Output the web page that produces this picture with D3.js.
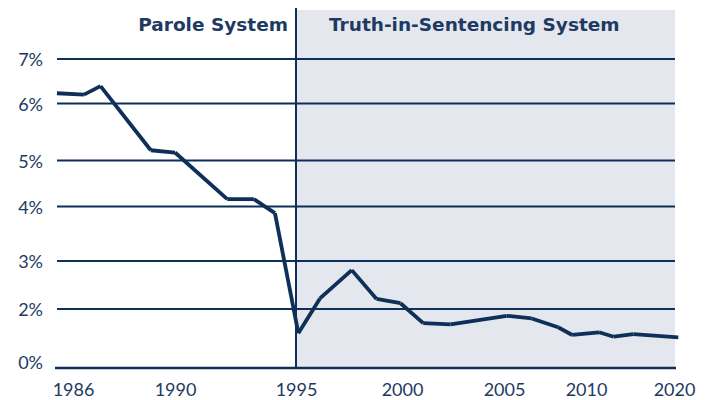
<!DOCTYPE html>
<html>
<head>
<meta charset="utf-8">
<script src="https://cdn.jsdelivr.net/npm/d3@7"></script>
<style>
  html, body { margin: 0; padding: 0; background: #ffffff; }
  svg { display: block; }
</style>
</head>
<body>
<script>
// ---- data ----
const years = [1985.37, 1986.43, 1987.08, 1989.05, 1990.0, 1992.16, 1993.26, 1994.13,
               1995.11, 1996.13, 1997.63, 1998.80, 1999.93, 2001.04, 2002.38, 2005.16,
               2006.69, 2008.30, 2009.16, 2011.48, 2013.15, 2015.38, 2020.49];
const rates = [6.23, 6.20, 6.39, 5.18, 5.14, 4.16, 4.16, 3.88,
               1.18, 2.22, 2.81, 2.21, 2.12, 1.52, 1.48, 1.77,
               1.68, 1.38, 1.12, 1.21, 1.06, 1.15, 1.04];
const xTicks = [1986, 1990, 1995, 2000, 2005, 2010, 2020];
const yTicks = [0, 2, 3, 4, 5, 6, 7];
const systemLabels = ["Parole System", "Truth-in-Sentencing System"];
const changeYear = 1995;

// ---- layout ----
const W = 711, H = 400;
const gridLeft = 57, gridRight = 675;
const navy = "#0e2f57", textCol = "#1e3a62", shade = "#e4e8ee";

const x = d3.scaleLinear().domain(xTicks).range([73, 175, 296, 402, 504, 586, 674]);
const y = d3.scaleLinear().domain(yTicks).range([368, 309, 261, 206.5, 160.5, 103.5, 59]);

const svg = d3.select("body").append("svg").attr("width", W).attr("height", H);

// shaded truth-in-sentencing region
svg.append("rect")
  .attr("x", x(changeYear)).attr("y", 10)
  .attr("width", gridRight - x(changeYear)).attr("height", y(0) - 10)
  .attr("fill", shade);

// gridlines
svg.append("g").selectAll("line").data(yTicks.filter(d => d > 0)).join("line")
  .attr("x1", gridLeft).attr("x2", gridRight)
  .attr("y1", d => y(d)).attr("y2", d => y(d))
  .attr("stroke", navy).attr("stroke-width", 2);

// baseline
svg.append("line")
  .attr("x1", 55).attr("x2", 676).attr("y1", y(0)).attr("y2", y(0))
  .attr("stroke", navy).attr("stroke-width", 2.6);

// divider
svg.append("line")
  .attr("x1", x(changeYear)).attr("x2", x(changeYear))
  .attr("y1", 8).attr("y2", y(0))
  .attr("stroke", navy).attr("stroke-width", 2);

// y axis labels
const yAxis = svg.append("g").attr("transform", `translate(${gridLeft},0)`)
  .call(d3.axisLeft(y).tickValues(yTicks).tickFormat(d => d + "%").tickSize(0).tickPadding(14));
yAxis.select(".domain").remove();
yAxis.selectAll("text")
  .attr("font-family", "Lato, 'Open Sans', sans-serif").attr("font-size", 18)
  .attr("fill", textCol).attr("dy", d => d === 0 ? "0.0em" : "0.38em");

// x axis labels
const xAxis = svg.append("g").attr("transform", `translate(0,${y(0)})`)
  .call(d3.axisBottom(x).tickValues(xTicks).tickFormat(d3.format("d")).tickSize(0));
xAxis.select(".domain").remove();
xAxis.selectAll("text")
  .attr("font-family", "Lato, 'Open Sans', sans-serif").attr("font-size", 18)
  .attr("fill", textCol).attr("y", 28).attr("dy", 0);

// series drawn as separate segments (butt caps give the notched joins)
const pts = years.map((yr, i) => [x(yr), y(rates[i])]);
const segs = d3.pairs(pts);
svg.append("g").selectAll("line").data(segs).join("line")
  .attr("x1", d => d[0][0]).attr("y1", d => d[0][1])
  .attr("x2", d => d[1][0]).attr("y2", d => d[1][1])
  .attr("stroke", navy).attr("stroke-width", 3.8).attr("stroke-linecap", "butt");

// system titles
svg.append("text")
  .attr("x", 288).attr("y", 31).attr("text-anchor", "end")
  .attr("font-family", "'DejaVu Sans', Verdana, sans-serif").attr("font-weight", "bold")
  .attr("font-size", 18.5).attr("fill", textCol).text(systemLabels[0]);
svg.append("text")
  .attr("x", 329).attr("y", 31).attr("text-anchor", "start")
  .attr("font-family", "'DejaVu Sans', Verdana, sans-serif").attr("font-weight", "bold")
  .attr("font-size", 18.5).attr("fill", textCol).text(systemLabels[1]);
</script>
</body>
</html>
